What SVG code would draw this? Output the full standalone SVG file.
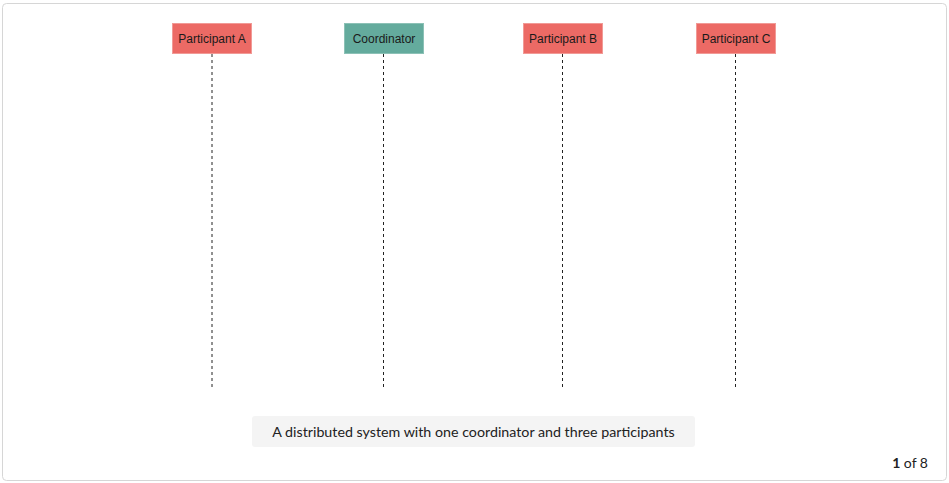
<svg xmlns="http://www.w3.org/2000/svg" width="949" height="483" viewBox="0 0 949 483">
<style>
.box{stroke-width:1}
.red{fill:#ec6a65;stroke:#f19a96}
.teal{fill:#64ab9d;stroke:#8cc1b6}
.lbl{font-family:"Liberation Sans",Arial,sans-serif;font-size:12px;fill:#1a1a1a;text-anchor:middle}
.life{stroke:#222;stroke-width:1;stroke-dasharray:3,3;fill:none}
.cap{font-family:Lato,"Open Sans",sans-serif;font-size:14.25px;fill:#222;text-anchor:middle}
</style>
<rect x="2.5" y="3.5" width="944" height="477" rx="4" fill="#fff" stroke="#d6d6d6"/>
<g id="connectors">
<line class="life" x1="212" y1="54" x2="212" y2="390"/>
<line class="life" x1="383.5" y1="54" x2="383.5" y2="390"/>
<line class="life" x1="562.5" y1="54" x2="562.5" y2="390"/>
<line class="life" x1="735.5" y1="54" x2="735.5" y2="390"/>
</g>
<g id="participantA"><rect class="box red" x="172.5" y="23.5" width="79" height="30"/><text class="lbl" x="212" y="42.5">Participant A</text></g>
<g id="coordinator"><rect class="box teal" x="344.5" y="23.5" width="79" height="30"/><text class="lbl" x="384" y="42.5">Coordinator</text></g>
<g id="participantB"><rect class="box red" x="523.5" y="23.5" width="79" height="30"/><text class="lbl" x="563" y="42.5">Participant B</text></g>
<g id="participantC"><rect class="box red" x="696.5" y="23.5" width="79" height="30"/><text class="lbl" x="736" y="42.5">Participant C</text></g>
<g id="caption"><rect x="252" y="416" width="443" height="31" rx="3" fill="#f4f4f4"/><text class="cap" x="473.5" y="436.5">A distributed system with one coordinator and three participants</text></g>
<g id="pager"><text x="928" y="468" font-family="Lato,'Open Sans',sans-serif" font-size="14" fill="#222" text-anchor="end"><tspan font-weight="bold">1</tspan> of 8</text></g>
</svg>
